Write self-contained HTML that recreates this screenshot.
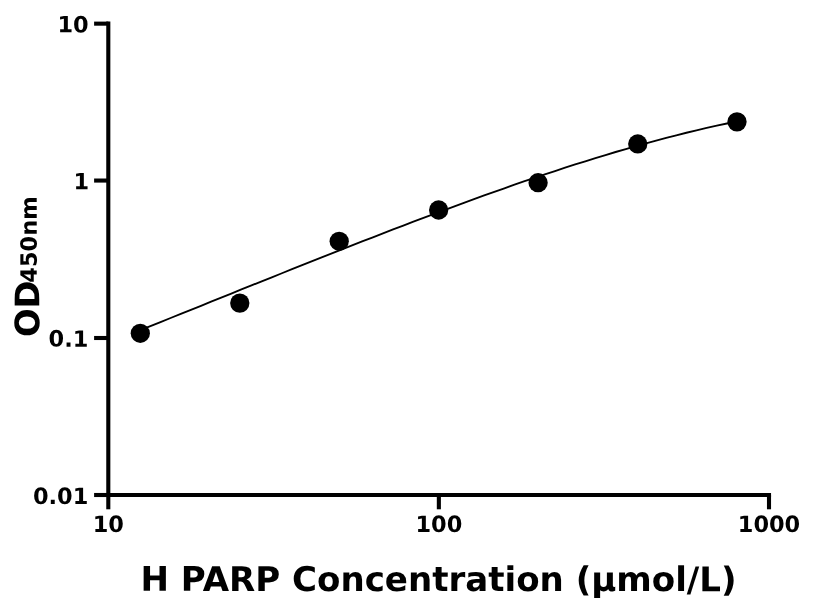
<!DOCTYPE html>
<html><head><meta charset="utf-8"><title>H PARP</title>
<style>html,body{margin:0;padding:0;background:#fff}svg{display:block}.lbl text{font-family:"DejaVu Sans","Liberation Sans",sans-serif;font-weight:bold}</style></head>
<body>
<svg width="816" height="612" viewBox="0 0 816 612">
<rect width="816" height="612" fill="#fff"/>
<g stroke="#000" stroke-width="4.1" fill="none" stroke-linecap="butt">
<path d="M108.3,21.60 V497.05"/>
<path d="M106.25,495.0 H771.05"/>
<path d="M108.3,495.0 V509.3"/>
<path d="M438.85,495.0 V509.3"/>
<path d="M769.0,495.0 V509.3"/>
<path d="M108.3,23.65 H94.1"/>
<path d="M108.3,180.55 H94.1"/>
<path d="M108.3,338.0 H94.1"/>
<path d="M108.3,495.0 H94.1"/>
</g>
<path d="M140.3,330.22 L150.4,326.15 L160.5,322.08 L170.6,318.00 L180.8,313.92 L190.9,309.84 L201.0,305.77 L211.1,301.69 L221.2,297.61 L231.3,293.54 L241.4,289.47 L251.5,285.40 L261.7,281.34 L271.8,277.29 L281.9,273.24 L292.0,269.20 L302.1,265.16 L312.2,261.14 L322.3,257.13 L332.5,253.13 L342.6,249.14 L352.7,245.17 L362.8,241.21 L372.9,237.27 L383.0,233.35 L393.1,229.45 L403.3,225.57 L413.4,221.71 L423.5,217.87 L433.6,214.07 L443.7,210.29 L453.8,206.54 L463.9,202.82 L474.0,199.13 L484.2,195.48 L494.3,191.86 L504.4,188.28 L514.5,184.74 L524.6,181.24 L534.7,177.79 L544.8,174.38 L555.0,171.03 L565.1,167.72 L575.2,164.46 L585.3,161.26 L595.4,158.11 L605.5,155.03 L615.6,152.00 L625.8,149.04 L635.9,146.15 L646.0,143.32 L656.1,140.57 L666.2,137.88 L676.3,135.28 L686.4,132.75 L696.5,130.31 L706.7,127.95 L716.8,125.67 L726.9,123.49 L737.0,121.40" stroke="#000" stroke-width="1.85" fill="none" stroke-linejoin="round"/>
<circle cx="140.3" cy="333.3" r="9.65" fill="#000"/>
<circle cx="239.8" cy="303.1" r="9.65" fill="#000"/>
<circle cx="339.2" cy="241.3" r="9.65" fill="#000"/>
<circle cx="438.65" cy="210.0" r="9.65" fill="#000"/>
<circle cx="538.1" cy="182.7" r="9.65" fill="#000"/>
<circle cx="637.75" cy="143.95" r="9.65" fill="#000"/>
<circle cx="737.0" cy="121.85" r="9.65" fill="#000"/>
<g class="lbl" fill="#000">
<text x="88.7" y="32.4" transform="rotate(0.03 88.7 32.4)" font-size="22.45" text-anchor="end">10</text>
<text x="89.1" y="189.2" transform="rotate(0.03 89.1 189.2)" font-size="22.45" text-anchor="end">1</text>
<text x="88.3" y="346.65" transform="rotate(0.03 88.3 346.65)" font-size="22.45" text-anchor="end">0.1</text>
<text x="88.3" y="504.0" transform="rotate(0.03 88.3 504.0)" font-size="22.45" text-anchor="end">0.01</text>
<text x="108.3" y="532.1" transform="rotate(0.03 108.3 532.1)" font-size="22.45" text-anchor="middle">10</text>
<text x="438.9" y="532.1" transform="rotate(0.03 438.9 532.1)" font-size="22.45" text-anchor="middle">100</text>
<text x="769.0" y="532.1" transform="rotate(0.03 769.0 532.1)" font-size="22.45" text-anchor="middle">1000</text>
<text x="438.5" y="591" transform="rotate(0.03 438.5 591)" font-size="34.05" text-anchor="middle">H PARP Concentration (μmol/L)</text>
<text transform="translate(39.3,337.1) rotate(-90.03)" font-size="33.7">OD<tspan font-size="22.5" dx="-2.2" dy="-2.5">450nm</tspan></text>
</g></svg>
</body></html>
